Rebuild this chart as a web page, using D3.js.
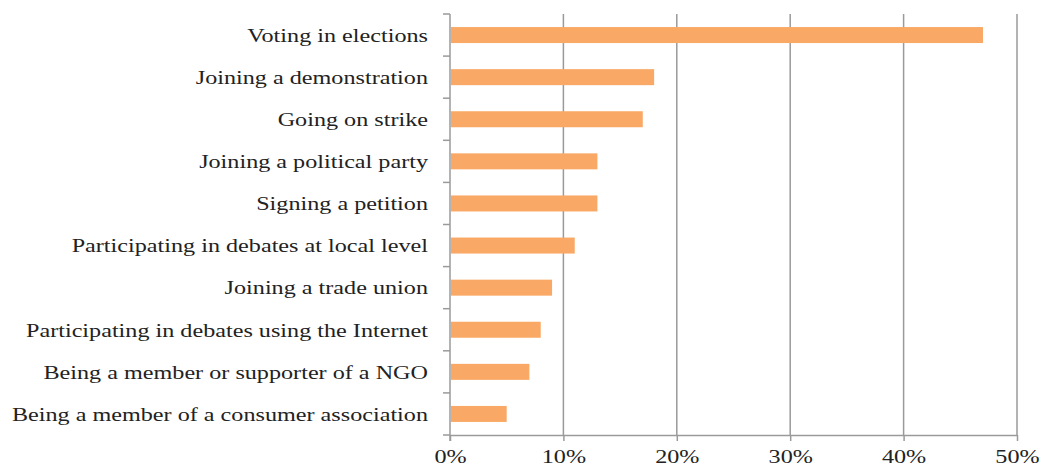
<!DOCTYPE html>
<html><head><meta charset="utf-8">
<script src="https://d3js.org/d3.v7.min.js"></script>
<style>body{margin:0;background:#fff}</style>
</head><body><svg id="c" width="1041" height="468"></svg>
<script>
const categories = ["Voting in elections","Joining a demonstration","Going on strike","Joining a political party","Signing a petition","Participating in debates at local level","Joining a trade union","Participating in debates using the Internet","Being a member or supporter of a NGO","Being a member of a consumer association"];
const values = [47,18,17,13,13,11,9,8,7,5];
const tickValues = [0,10,20,30,40,50];
const tickLabels = ["0%","10%","20%","30%","40%","50%"];

const svg = d3.select("#c");
const m = {left:450, right:1017, top:14, bottom:435};
const x = d3.scaleLinear().domain([0,50]).range([m.left,m.right]);
const y = d3.scaleBand().domain(categories).range([m.top,m.bottom]).paddingInner(0.62).paddingOuter(0.31);
const font = "'Liberation Serif','Times New Roman',serif";
const fs = 19.5, sx = 1.24;
const grid = "#9a9a9a";

// gridlines
svg.append("g").selectAll("line").data(tickValues.slice(1)).join("line")
  .attr("x1",d=>x(d)).attr("x2",d=>x(d)).attr("y1",m.top).attr("y2",m.bottom)
  .attr("stroke",grid).attr("stroke-width",1.5);

// bars
svg.append("g").selectAll("rect").data(values).join("rect")
  .attr("x",x(0)+1).attr("y",(d,i)=>y(categories[i]))
  .attr("width",d=>x(d)-x(0)-1).attr("height",y.bandwidth())
  .attr("fill","#F9A965");

// x axis
const xa = svg.append("g").attr("transform",`translate(0,${m.bottom})`)
  .call(d3.axisBottom(x).tickValues(tickValues).tickFormat((d,i)=>tickLabels[i]).tickSize(6).tickSizeOuter(0));
xa.select(".domain").attr("stroke",grid).attr("stroke-width",1.5);
xa.selectAll(".tick line").attr("stroke",grid).attr("stroke-width",1.5);
xa.selectAll("text").attr("font-family",font).attr("font-size",fs).attr("fill","#222")
  .attr("y",28).attr("dy",0).attr("transform",`scale(${sx},1)`);

// y axis
const ya = svg.append("g").attr("transform",`translate(${m.left},0)`);
ya.append("line").attr("x1",0).attr("x2",0).attr("y1",m.top).attr("y2",m.bottom+6).attr("stroke",grid).attr("stroke-width",1.5);
const bounds = d3.range(categories.length+1).map(i=>m.top+i*(m.bottom-m.top)/categories.length);
ya.selectAll("line.t").data(bounds).join("line").attr("class","t")
  .attr("x1",-7).attr("x2",0).attr("y1",d=>d).attr("y2",d=>d).attr("stroke",grid).attr("stroke-width",1.5);
ya.selectAll("g.lab").data(categories).join("g").attr("class","lab")
  .attr("transform",d=>`translate(-22,${y(d)+y.bandwidth()/2})`)
  .append("text").attr("dy","0.35em").attr("transform",`scale(${sx},1)`)
  .attr("text-anchor","end").attr("font-family",font).attr("font-size",fs).attr("fill","#222")
  .text(d=>d);
</script></body></html>
